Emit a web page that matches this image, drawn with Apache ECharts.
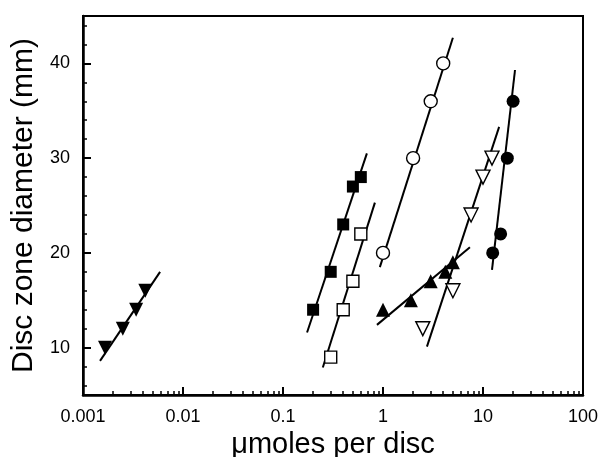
<!DOCTYPE html>
<html><head><meta charset="utf-8">
<script src="https://cdn.jsdelivr.net/npm/echarts@6/dist/echarts.min.js"></script>
<style>html,body{margin:0;padding:0;background:#fff}#c{width:599px;height:457px}</style>
</head><body><div id="c"></div>
<script>
// Tick labels
const xTickValues = [0.001, 0.01, 0.1, 1, 10, 100];
const xTickLabels = ['0.001', '0.01', '0.1', '1', '10', '100'];
const yTickValues = [10, 20, 30, 40];
const yMinorTicks = [6, 8, 12, 14, 16, 18, 22, 24, 26, 28, 32, 34, 36, 38, 42, 44];

// Series: points
const triDownFilledX = [0.00166, 0.0025, 0.0034, 0.0042];
const triDownFilledY = [10, 12, 14, 16];
const sqFilledX = [0.2, 0.3, 0.4, 0.5, 0.6];
const sqFilledY = [14, 18, 23, 27, 28];
const sqOpenX = [0.3, 0.4, 0.5, 0.6];
const sqOpenY = [9, 14, 17, 22];
const circOpenX = [1, 2, 3, 4];
const circOpenY = [20, 30, 36, 40];
const triUpFilledX = [1, 1.9, 3, 4.2, 5];
const triUpFilledY = [14, 15, 17, 18, 19];
const triDownOpenX = [2.5, 5, 7.6, 10, 12.3];
const triDownOpenY = [12, 16, 24, 28, 30];
const circFilledX = [12.5, 15, 17.5, 20];
const circFilledY = [20, 22, 30, 36];

// Series: fitted line end points
const lineTriDownFilledX = [0.00148, 0.0059];
const lineTriDownFilledY = [8.6, 18.0];
const lineSqFilledX = [0.174, 0.69];
const lineSqFilledY = [11.6, 30.5];
const lineSqOpenX = [0.25, 0.83];
const lineSqOpenY = [7.9, 25.3];
const lineCircOpenX = [0.93, 5.0];
const lineCircOpenY = [18.5, 42.7];
const lineTriUpFilledX = [0.87, 7.4];
const lineTriUpFilledY = [12.4, 20.6];
const lineTriDownOpenX = [2.75, 14.5];
const lineTriDownOpenY = [10.1, 33.3];
const lineCircFilledX = [12.3, 20.9];
const lineCircFilledY = [18.2, 39.3];

const zip = (xs, ys) => xs.map((x, i) => [x, ys[i]]);
const decades = [-3, -2, -1, 0, 1];
const xMinorLog = [];
decades.forEach(d => { for (let m = 2; m <= 9; m++) xMinorLog.push(d + Math.log10(m)); });

function scatter(xs, ys, symbol, size, filled, rotate) {
  return {
    type: 'scatter', xAxisIndex: 0, yAxisIndex: 0,
    data: zip(xs, ys), symbol: symbol, symbolSize: size, symbolRotate: rotate || 0,
    itemStyle: filled ? { color: '#000', opacity: 1 } : { color: '#fff', borderColor: '#000', borderWidth: 1.4, opacity: 1 },
    z: 5
  };
}
function line(xs, ys) {
  return {
    type: 'line', xAxisIndex: 0, yAxisIndex: 0, data: zip(xs, ys), symbol: 'none',
    lineStyle: { color: '#000', width: 2 }, z: 3, silent: true
  };
}

const font = 'Liberation Sans, Arial, sans-serif';
const chart = echarts.init(document.getElementById('c'), null, { renderer: 'canvas' });
chart.setOption({
  animation: false,
  backgroundColor: '#fff',
  grid: { left: 83, right: 16, top: 16, bottom: 62, outerBoundsMode: 'none', containLabel: false, show: true, borderColor: '#000', borderWidth: 2, backgroundColor: 'transparent' },
  xAxis: [
    {
      type: 'log', logBase: 10, min: 0.001, max: 100, position: 'bottom',
      axisLine: { show: true, onZero: false, lineStyle: { color: '#000', width: 2.5 } },
      axisTick: { show: false }, axisLabel: { show: false }, splitLine: { show: false }
    },
    {
      type: 'value', min: -3, max: 2, position: 'bottom',
      name: 'μmoles per disc', nameLocation: 'middle', nameGap: 30,
      nameTextStyle: { fontFamily: font, fontSize: 29, color: '#000' },
      axisLine: { show: false, onZero: false },
      axisTick: { show: true, inside: true, length: 8, lineStyle: { color: '#000', width: 2 }, customValues: xTickValues.map(v => Math.log10(v)) },
      axisLabel: { show: true, margin: 13, fontFamily: font, fontSize: 18, color: '#000',
        customValues: xTickValues.map(v => Math.log10(v)),
        formatter: v => { const i = xTickValues.findIndex(t => Math.abs(Math.log10(t) - v) < 1e-6); return i >= 0 ? xTickLabels[i] : ''; } },
      splitLine: { show: false }
    },
    {
      type: 'value', min: -3, max: 2, position: 'bottom',
      axisLine: { show: false, onZero: false },
      axisTick: { show: true, inside: true, length: 4, lineStyle: { color: '#000', width: 1.5 }, customValues: xMinorLog },
      axisLabel: { show: false }, splitLine: { show: false }
    }
  ],
  yAxis: [
    {
      type: 'value', min: 5, max: 45, position: 'left',
      name: 'Disc zone diameter (mm)', nameLocation: 'middle', nameGap: 44,
      nameTextStyle: { fontFamily: font, fontSize: 30, color: '#000' },
      axisLine: { show: true, onZero: false, lineStyle: { color: '#000', width: 2.5 } },
      axisTick: { show: true, inside: true, length: 8, lineStyle: { color: '#000', width: 2 }, customValues: yTickValues },
      axisLabel: { show: true, margin: 13, fontFamily: font, fontSize: 18, color: '#000', customValues: yTickValues },
      splitLine: { show: false }
    },
    {
      type: 'value', min: 5, max: 45, position: 'left',
      axisLine: { show: false, onZero: false },
      axisTick: { show: true, inside: true, length: 4, lineStyle: { color: '#000', width: 1.5 }, customValues: yMinorTicks },
      axisLabel: { show: false }, splitLine: { show: false }
    }
  ],
  series: [
    line(lineTriDownFilledX, lineTriDownFilledY),
    line(lineSqFilledX, lineSqFilledY),
    line(lineSqOpenX, lineSqOpenY),
    line(lineCircOpenX, lineCircOpenY),
    line(lineTriUpFilledX, lineTriUpFilledY),
    line(lineTriDownOpenX, lineTriDownOpenY),
    line(lineCircFilledX, lineCircFilledY),
    scatter(triDownFilledX, triDownFilledY, 'triangle', 14, true, 180),
    scatter(sqFilledX, sqFilledY, 'rect', 12, true),
    scatter(sqOpenX, sqOpenY, 'rect', 12, false),
    scatter(circOpenX, circOpenY, 'circle', 13, false),
    scatter(triUpFilledX, triUpFilledY, 'triangle', 14, true),
    scatter(triDownOpenX, triDownOpenY, 'triangle', 14, false, 180),
    scatter(circFilledX, circFilledY, 'circle', 13, true)
  ]
});
</script>
</body></html>
